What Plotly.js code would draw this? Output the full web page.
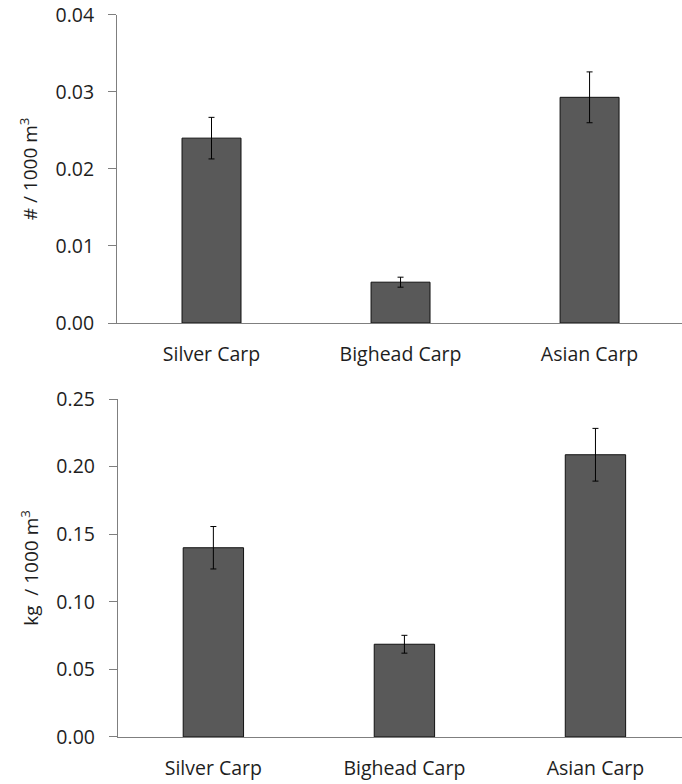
<!DOCTYPE html>
<html>
<head>
<meta charset="utf-8">
<script src="https://cdn.plot.ly/plotly-3.0.1.min.js"></script>
<style>html,body{margin:0;padding:0;background:#fff;}#chart{width:682px;height:784px;}</style>
</head>
<body>
<div id="chart"></div>
<script>
const categories = ["Silver Carp", "Bighead Carp", "Asian Carp"];
const densityValues = [0.0240, 0.0053, 0.0293];
const densityErrors = [0.0027, 0.00065, 0.0033];
const biomassValues = [0.140, 0.0686, 0.2088];
const biomassErrors = [0.0157, 0.0066, 0.0195];
const densityTicks = [0, 0.01, 0.02, 0.03, 0.04];
const densityTickText = ["0.00", "0.01", "0.02", "0.03", "0.04"];
const biomassTicks = [0, 0.05, 0.10, 0.15, 0.20, 0.25];
const biomassTickText = ["0.00", "0.05", "0.10", "0.15", "0.20", "0.25"];

const FONT = "Open Sans, sans-serif";
const TXT = "#1e1e1e";

const barStyle = {color: "#595959", line: {color: "#111", width: 1}};
const errStyle = (arr) => ({type: "data", array: arr, visible: true, color: "#000", thickness: 1, width: 3});

const traces = [
  {type: "bar", x: categories, y: densityValues, xaxis: "x", yaxis: "y",
   width: 0.312, marker: barStyle, error_y: errStyle(densityErrors), hoverinfo: "none"},
  {type: "bar", x: categories, y: biomassValues, xaxis: "x2", yaxis: "y2",
   width: 0.316, marker: barStyle, error_y: errStyle(biomassErrors), hoverinfo: "none"}
];

const yCommon = {
  showgrid: false, zeroline: false, showline: true, linecolor: "#7f7f7f", linewidth: 1,
  ticks: "outside", ticklen: 8, tickcolor: "#7f7f7f", tickwidth: 1,
  tickfont: {family: FONT, size: 19.5, color: TXT}, ticklabelstandoff: 10,
  fixedrange: true
};
const xCommon = {
  type: "category", showgrid: false, zeroline: false, showline: true, linecolor: "#7f7f7f", linewidth: 1,
  ticks: "", tickfont: {family: FONT, size: 19.5, color: TXT}, fixedrange: true, ticklabelstandoff: 14
};

const layout = {
  width: 682, height: 784,
  margin: {l: 117, r: 0, t: 0, b: 0},
  paper_bgcolor: "#fff", plot_bgcolor: "#fff",
  showlegend: false,
  font: {family: FONT, color: TXT},
  xaxis: Object.assign({}, xCommon, {domain: [0, 1], range: [-0.5, 2.489], anchor: "y"}),
  yaxis: Object.assign({}, yCommon, {domain: [0.588, 0.981], range: [0, 0.04], tickvals: densityTicks, ticktext: densityTickText, anchor: "x",
    title: {text: "# / 1000 m<sup>3</sup>", font: {family: FONT, size: 19, color: TXT}, standoff: 12}}),
  xaxis2: Object.assign({}, xCommon, {domain: [0.0015, 1], range: [-0.5, 2.453], anchor: "y2"}),
  yaxis2: Object.assign({}, yCommon, {domain: [0.060, 0.491], range: [0, 0.25], tickvals: biomassTicks, ticktext: biomassTickText, anchor: "x2",
    title: {text: "kg  / 1000 m<sup>3</sup>", font: {family: FONT, size: 19, color: TXT}, standoff: 12}})
};

Plotly.newPlot("chart", traces, layout, {staticPlot: true, displayModeBar: false});
</script>
</body>
</html>
